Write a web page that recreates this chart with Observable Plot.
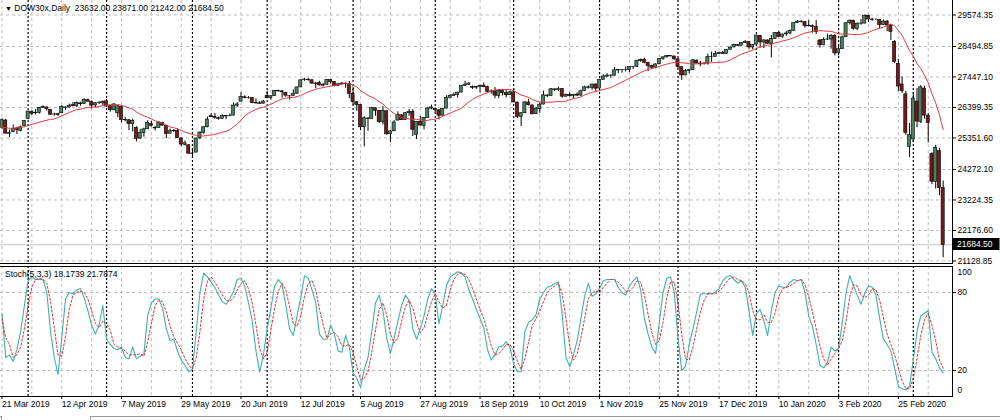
<!DOCTYPE html>
<html><head><meta charset="utf-8">
<script src="https://cdn.jsdelivr.net/npm/d3@7"></script>
<script src="https://cdn.jsdelivr.net/npm/@observablehq/plot@0.6"></script>
<style>
body{margin:0;background:#fff;}
#wrap{position:relative;width:1000px;height:420px;overflow:hidden;font-family:"Liberation Sans",Arial,sans-serif;background:#fff;}
#main{position:absolute;left:0;top:0;}
#stoch{position:absolute;left:0;top:264px;}
.hdr{position:absolute;font-size:8.5px;line-height:10px;color:#000;white-space:pre;}
.tri{font-size:7px;}
#tabs{position:absolute;left:0;top:416px;width:1000px;height:4px;border-top:1px solid #9a9a9a;}
#tab1{position:absolute;left:1px;top:416px;width:88px;height:6px;border-left:1px solid #9a9a9a;border-right:1px solid #9a9a9a;background:#fff;}
</style></head><body>
<div id="wrap"><div id="main"></div><div id="stoch"></div>
<div class="hdr" id="h1" style="left:5px;top:3px"></div>
<div class="hdr" id="h2" style="left:5px;top:269px"></div>
<div id="tabs"></div><div id="tab1"></div>
</div>
<script>
// ---- data ----
const symbol = "DOW30x,Daily";
const priorCloses = [25819,25806,25673,25473,25450,25650,25554,25702,25709,25849,25914,25887,25745];
const open = [25700,25950,25490,25560,25680,25600,25760,26000,26250,26200,26210,26390,26400,26310,26160,26170,26200,26400,26400,26480,26440,26540,26520,26650,26600,26470,26550,26540,26610,26440,26300,26200,26420,25960,25960,25830,25700,25330,25520,25650,25830,25700,25700,25870,25760,25500,25580,25590,25340,25120,25100,24810,24850,25340,25530,25720,26100,26080,26030,26010,26100,26100,26120,26460,26600,26750,26720,26730,26560,26540,26530,26800,26720,26790,26960,26950,26900,26780,26800,26870,27090,27340,27350,27330,27210,27240,27150,27180,27340,27270,27140,27190,27220,27200,26870,26580,26480,25720,26020,26010,26370,26280,25890,26270,25480,25580,25950,26130,25970,26200,26250,25450,25900,25770,26040,26360,26350,26300,26120,26360,26730,26800,26830,26910,27140,27180,27100,27080,27110,27150,27100,26930,26950,26800,26970,26890,26820,26920,26570,26080,26200,26570,26470,26170,26340,26500,26810,26790,27020,27000,27030,26770,26830,26790,26840,26810,26960,27090,27070,27190,27050,27350,27460,27490,27490,27670,27680,27690,27690,27780,27790,28000,28040,27930,27820,27770,27880,28070,28120,28160,28150,28050,27780,27500,27650,27680,28010,27910,27880,27910,28130,28140,28240,28270,28240,28380,28460,28550,28520,28620,28640,28460,28560,28860,28630,28700,28580,28750,28960,28820,28910,28940,29030,29300,29350,29330,29200,29190,29160,28700,28540,28730,28730,28860,28260,28400,28810,29290,29380,29100,29280,29280,29550,29420,29400,29400,29230,29350,29220,28650,27900,27190,26850,25050,25300,26600,25900,27050,26120,24800,23850,24900,23632];
const high = [26010,25990,25620,25800,25720,25760,25950,26270,26280,26330,26400,26450,26420,26330,26200,26200,26460,26420,26520,26570,26580,26580,26700,26690,26620,26570,26600,26620,26670,26460,26530,26460,26450,26060,25990,26000,25740,25650,25690,25940,25920,25750,25900,25890,25770,25660,25640,25660,25350,25250,25120,24950,25350,25560,25730,26070,26190,26190,26070,26150,26120,26180,26560,26570,26910,26800,26770,26740,26700,26600,26640,26960,26790,26970,26990,26980,26920,26810,27000,27100,27340,27400,27400,27360,27260,27300,27230,27360,27350,27290,27230,27260,27240,27290,27100,26600,26500,26080,26050,26400,26380,26300,26440,26280,25620,25950,26250,26150,26230,26330,26330,25910,26090,26050,26400,26480,26380,26320,26370,26800,26840,26900,26920,27140,27300,27250,27140,27120,27160,27240,27130,27000,27080,27000,27000,27000,26960,27050,26580,26220,26600,26680,26480,26400,26560,26960,26840,27050,27040,27100,27040,26860,26900,26850,26900,26990,27130,27140,27200,27200,27360,27520,27560,27520,27770,27690,27700,27790,27800,27800,28010,28060,28090,27950,27850,27900,28080,28130,28180,28180,28160,28080,27790,27700,27700,28050,28030,27980,27930,28230,28300,28330,28300,28330,28390,28480,28570,28560,28630,28700,28660,28550,28880,28870,28710,28720,28870,28970,29010,28910,29010,29060,29300,29380,29370,29350,29380,29230,29380,28730,28790,28920,28900,28900,28560,28850,29300,29400,29390,29300,29420,29570,29560,29460,29450,29420,29400,29380,29250,28700,28050,27450,26950,25850,26900,27050,27150,27130,26200,24850,25100,25000,23871];
const low = [25650,25490,25370,25540,25470,25560,25730,25980,26130,26150,26170,26370,26270,26130,26100,26090,26190,26300,26370,26420,26400,26440,26510,26590,26350,26380,26500,26440,26410,26240,26300,26050,25870,25910,25600,25560,25220,25310,25380,25640,25730,25590,25690,25760,25330,25480,25550,25340,25050,25080,24790,24680,24840,25300,25480,25700,26050,26000,25960,26000,25980,26080,26110,26400,26590,26700,26690,26530,26530,26500,26520,26700,26650,26780,26930,26720,26750,26660,26790,26860,27080,27300,27300,27200,27040,27140,27100,27160,27200,27110,27120,27170,27060,26700,26480,26270,25600,25050,25580,26000,26100,25850,25800,25450,25200,25570,25940,25950,25960,26100,25400,25300,25770,25630,26030,26320,26220,25970,26100,26350,26700,26780,26720,26900,27120,27150,27020,27020,26900,27080,26900,26860,26700,26700,26790,26730,26810,26560,26020,25740,26190,26450,26150,26160,26200,26490,26730,26780,26950,26950,26720,26760,26760,26700,26780,26780,26950,27030,26990,26950,27040,27340,27440,27400,27480,27560,27580,27620,27600,27700,27780,27950,27900,27630,27700,27730,27870,28020,28100,28140,28020,27730,27330,27490,27560,27670,27900,27800,27860,27850,27950,28130,28220,28230,28230,28370,28450,28500,28510,28600,28400,28380,28540,28450,28420,28560,28100,28740,28800,28780,28850,28900,29020,29280,29300,29120,29170,28950,28900,28440,28520,28700,28400,28170,28180,28390,28800,29230,29050,29040,29220,29270,29320,29360,29380,29100,29220,29000,28700,27900,26950,26880,25450,24680,25200,25700,25850,26000,25180,23750,23600,23370,21242];
const close = [25962,25502,25516,25657,25625,25717,25929,26259,26180,26218,26385,26425,26341,26150,26157,26143,26412,26384,26453,26450,26559,26511,26656,26597,26462,26543,26554,26593,26430,26307,26505,26438,25965,25968,25829,25942,25324,25532,25648,25862,25764,25679,25877,25776,25490,25585,25600,25347,25126,25169,24815,24819,25332,25539,25720,25984,26062,26048,26004,26106,26090,26112,26465,26504,26753,26719,26727,26548,26536,26526,26600,26717,26786,26966,26950,26922,26806,26783,26860,27088,27332,27359,27335,27219,27223,27154,27172,27349,27270,27140,27192,27221,27198,26864,26583,26485,25718,26030,26007,26378,26287,25897,26280,25479,25579,25886,26136,25962,26202,26252,25629,25899,25778,26036,26363,26403,26300,26118,26355,26728,26797,26836,26909,27137,27182,27220,27076,27111,27147,27095,26935,26950,26808,26970,26891,26820,26917,26573,26079,26202,26574,26478,26165,26347,26497,26817,26787,27025,27001,27026,26770,26827,26788,26834,26806,26958,27091,27071,27186,27046,27347,27462,27492,27492,27675,27681,27691,27691,27784,27782,28005,28036,27934,27821,27766,27876,28066,28121,28164,28150,28051,27783,27502,27649,27678,28015,27909,27881,27911,28132,28135,28235,28267,28239,28376,28455,28551,28515,28621,28645,28462,28538,28868,28634,28703,28583,28745,28956,28823,28907,28940,29030,29297,29348,29330,29196,29186,29160,28990,28535,28723,28734,28859,28256,28399,28808,29291,29380,29103,29276,29276,29551,29423,29398,29400,29232,29348,29219,28992,27961,27120,26957,25530,25450,26703,25917,27091,26121,25865,23851,25018,23632,21684.5];
const stochK = [64,30,32,27,36,50,70,89,92,90, 90,90,80,50,30,17,45,75,80,79, 82,83,76,66,55,48,55,70,44,40, 37,36,38,30,29,38,29,31,33,62, 72,75,75,68,52,43,44,35,28,24, 19,21,50,80,95,92,88,84,78,73, 71,75,81,90,91,85,72,58,35,19, 32,52,68,85,90,86,70,52,47,62, 76,93,91,82,72,48,44,44,55,48, 35,34,47,38,18,14,7,21,30,50, 72,78,66,45,33,45,58,70,78,74, 52,44,52,62,75,83,79,56,70,85, 92,94,96,95,92,82,75,67,60,53, 36,28,32,38,39,42,38,25,19,19, 50,57,59,63,75,80,84,85,87,88, 63,30,23,32,43,60,77,87,77,79, 83,89,90,90,90,84,80,78,85,89, 92,82,60,48,38,33,57,80,91,92, 80,45,20,23,40,52,65,79,79,79, 79,80,83,89,92,93,90,87,89,84, 66,47,64,67,58,47,66,80,85,84, 84,88,90,89,90,80,62,54,40,24, 22,26,38,35,37,57,80,93,85,78, 71,79,85,84,78,60,44,40,35,22, 8,6,5,8,28,50,62,64,66,34, 29,22,18.1739];
const stochD = [60,45,40,30,32,38,52,70,84,90, 91,90,87,73,53,32,31,46,67,78, 80,81,80,75,66,56,53,58,56,51, 40,38,37,35,32,32,32,33,31,42, 56,70,74,73,65,54,46,41,36,29, 24,21,30,50,75,89,92,88,83,78, 74,73,76,82,87,89,83,72,55,37, 29,34,51,68,81,87,82,69,56,54, 62,77,87,89,82,67,55,45,48,49, 46,39,39,40,34,23,13,14,19,34, 51,67,72,63,48,41,45,58,69,74, 68,57,49,53,63,73,79,73,68,70, 82,90,94,95,94,90,83,75,67,60, 50,39,32,33,36,40,40,35,27,21, 29,42,55,60,66,73,80,83,85,87, 79,60,39,28,33,45,60,75,80,81, 80,84,87,90,90,88,85,81,81,84, 89,88,78,63,49,40,43,57,76,88, 88,72,48,29,28,38,52,65,74,79, 79,79,81,84,88,91,92,90,89,87, 80,66,59,59,63,57,57,64,77,83, 84,85,87,89,90,86,77,65,52,39, 29,24,29,33,37,43,58,77,86,85, 78,76,78,83,82,74,61,48,40,32, 22,12,6,6,14,29,47,59,64,55, 43,28,21.7874];
const priceTicks = [29574.35,28494.85,27447.10,26399.35,25351.60,24272.10,23224.35,22176.60,21128.85];
const stochLevels = [80,20];
const tickIdx = [0,16,32,48,64,80,96,112,128,144,160,176,192,208,224,240];
const tickLabels = ["21 Mar 2019","12 Apr 2019","7 May 2019","29 May 2019","20 Jun 2019","12 Jul 2019","5 Aug 2019","27 Aug 2019","18 Sep 2019","10 Oct 2019","1 Nov 2019","25 Nov 2019","17 Dec 2019","10 Jan 2020","3 Feb 2020","25 Feb 2020"];
const monthStartIdx = [7,28,51,71,94,116,137,160,181,202,224,244];
const maPeriod = 14;

// ---- build ----
const N = close.length;
const last = N - 1;
const bars = close.map((c, i) => ({i, o: open[i], h: high[i], l: low[i], c}));
const maData = priorCloses.map((c, j) => ({i: j - priorCloses.length, c})).concat(close.map((c, i) => ({i, c})));
const kData = stochK.map((v, i) => ({i, v}));
const dData = stochD.map((v, i) => ({i, v}));
const gridIdx = d3.range(0, N, 8);
const labelByIdx = new Map(tickIdx.map((d, j) => [d, tickLabels[j]]));
const xDomain = [-0.4, 254.5];
const FONT = "Liberation Sans, Arial, sans-serif";
const gridStyle = {stroke: "#bdbdbd", strokeDasharray: "3,3", strokeWidth: 1};
const sepStyle = {stroke: "#000", strokeDasharray: "2,2", strokeWidth: 1.2};
const BULL = "#4d7f61", BEAR = "#741a1a";

const priceBox = (index, scales, values, dimensions) => {
  const y = scales.y(close[last]);
  const x0 = dimensions.width - dimensions.marginRight;
  const g = d3.create("svg:g");
  g.append("rect").attr("x", x0 + 0.5).attr("y", Math.round(y) - 6).attr("width", 47).attr("height", 12).attr("fill", "#000");
  g.append("text").attr("x", x0 + 5).attr("y", y).attr("dy", "0.35em").attr("fill", "#fff")
    .attr("text-anchor", "start")
    .attr("font-size", "8.5px").attr("font-family", FONT).text(close[last].toFixed(2));
  return g.node();
};

const mainPlot = Plot.plot({
  width: 1000, height: 264,
  marginLeft: 0, marginRight: 48, marginTop: 0, marginBottom: 1,
  x: {domain: xDomain, axis: null, label: null},
  y: {domain: [21043, 30072.1], label: null},
  style: {background: "transparent", fontFamily: FONT, fontSize: "8.5px", color: "#000", overflow: "visible"},
  marks: [
    Plot.ruleY(priceTicks, gridStyle),
    Plot.ruleX(gridIdx, gridStyle),
    Plot.ruleX(monthStartIdx, sepStyle),
    Plot.ruleY([close[last]], {stroke: "#c4c4c4", strokeWidth: 1}),
    Plot.ruleX(bars, {x: "i", y1: "l", y2: "h", stroke: "#000", strokeWidth: 1}),
    Plot.rect(bars.filter(d => d.c >= d.o), {x1: d => d.i - 0.42, x2: d => d.i + 0.42, y1: "o", y2: "c", fill: BULL, stroke: "#000", strokeWidth: 0.6}),
    Plot.rect(bars.filter(d => d.c < d.o), {x1: d => d.i - 0.42, x2: d => d.i + 0.42, y1: "c", y2: "o", fill: BEAR, stroke: "#000", strokeWidth: 0.6}),
    Plot.lineY(maData, Plot.windowY({k: maPeriod, anchor: "end", reduce: "mean"}, {x: "i", y: "c", stroke: "#e23c3c", strokeWidth: 1, clip: true})),
    Plot.axisY(priceTicks, {anchor: "right", tickSize: 3, tickPadding: 2, tickFormat: d => d.toFixed(2), label: null}),
    Plot.frame({anchor: "right", stroke: "#000"}),
    Plot.frame({anchor: "bottom", stroke: "#000"}),
    priceBox
  ]
});
document.getElementById("main").appendChild(mainPlot);

const stochPlot = Plot.plot({
  width: 1000, height: 156,
  marginLeft: 0, marginRight: 48, marginTop: 2, marginBottom: 24,
  x: {domain: xDomain, label: null},
  y: {domain: [0, 100], label: null},
  style: {background: "transparent", fontFamily: FONT, fontSize: "8.5px", color: "#000", overflow: "visible"},
  marks: [
    Plot.ruleY(stochLevels, gridStyle),
    Plot.ruleX(gridIdx, gridStyle),
    Plot.ruleX(monthStartIdx, sepStyle),
    Plot.line(kData, {x: "i", y: "v", stroke: "#3cb2aa", strokeWidth: 1.1}),
    Plot.line(dData, {x: "i", y: "v", stroke: "#e03030", strokeWidth: 1, strokeDasharray: "2,2"}),
    Plot.axisX(tickIdx, {anchor: "bottom", tickSize: 3, tickPadding: 1, textAnchor: "start", dx: 0, tickFormat: d => labelByIdx.get(d), label: null}),
    Plot.axisY(stochLevels, {anchor: "right", tickSize: 3, tickPadding: 2, label: null}),
    Plot.text([100], {y: d => d, text: d => String(d), frameAnchor: "right", textAnchor: "start", dx: 5, dy: 6}),
    Plot.text([0], {y: d => d, text: d => String(d), frameAnchor: "right", textAnchor: "start", dx: 5, dy: -6}),
    Plot.frame({anchor: "top", stroke: "#000"}),
    Plot.frame({anchor: "right", stroke: "#000"}),
    Plot.frame({anchor: "bottom", stroke: "#000"})
  ]
});
document.getElementById("stoch").appendChild(stochPlot);

document.getElementById("h1").innerHTML = '<span class="tri">\u25BC</span> ' + symbol + '  ' +
  [open[last], high[last], low[last], close[last]].map(v => v.toFixed(2)).join(" ");
document.getElementById("h2").textContent = "Stoch(5,3,3) " + stochK[last].toFixed(4) + " " + stochD[last].toFixed(4);
</script>
</body></html>
